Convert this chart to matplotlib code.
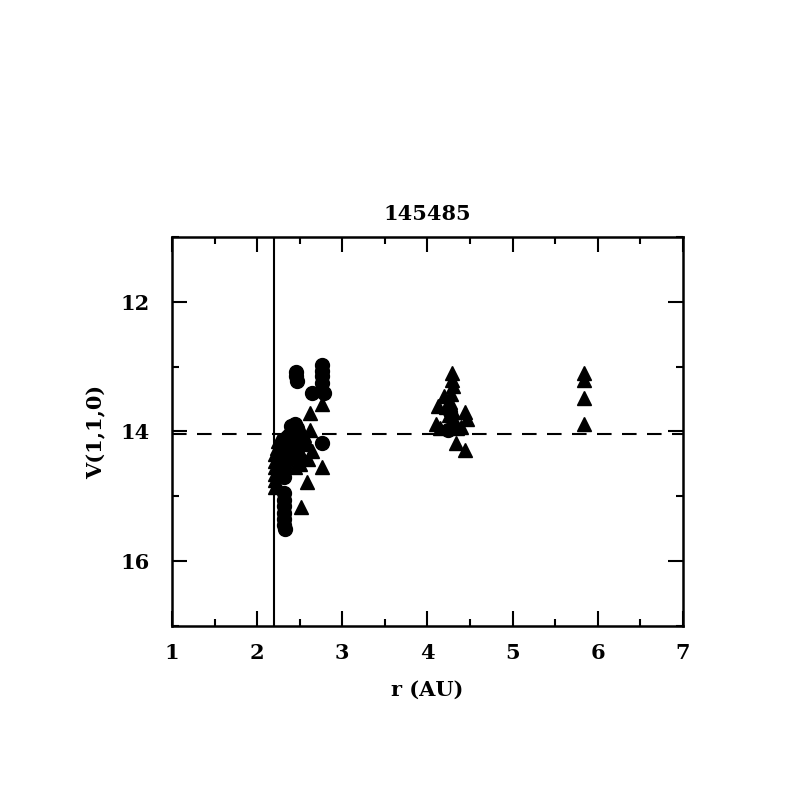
import numpy as np
import matplotlib
matplotlib.use("Agg")
import matplotlib.pyplot as plt
from matplotlib.ticker import MultipleLocator

# circles
circ_r = [2.46, 2.46, 2.47, 2.76, 2.76, 2.76, 2.76, 2.65, 2.78, 2.76,
          2.44, 2.47, 2.40, 2.42, 2.38, 2.35, 2.33, 2.30, 2.31, 2.29, 2.36,
          2.40, 2.44, 2.32, 2.34, 2.28, 2.30, 2.37, 2.41, 2.33, 2.29, 2.31,
          2.35, 2.31, 2.31, 2.32, 2.32, 2.31, 2.32, 2.33, 4.24, 4.27]
circ_v = [13.08, 13.15, 13.22, 12.98, 13.07, 13.15, 13.25, 13.40, 13.40, 14.17,
          13.88, 13.95, 13.92, 14.02, 14.05, 14.08, 14.12, 14.18, 14.25, 14.32, 14.20,
          14.15, 14.10, 14.40, 14.30, 14.45, 14.55, 14.35, 14.25, 14.50, 14.60, 14.70,
          14.40, 14.95, 15.05, 15.15, 15.25, 15.35, 15.45, 15.50, 13.98, 13.70]

# triangles
tri_r = [2.21, 2.21, 2.21, 2.21, 2.21, 2.21, 2.23, 2.25,
         2.62, 2.76, 2.62, 2.55, 2.50, 2.64, 2.60, 2.52, 2.76, 2.58, 2.52,
         2.50, 2.45, 2.56, 2.48, 2.44, 2.58,
         4.29, 4.29, 4.30, 4.28, 4.20, 4.12, 4.22, 4.25, 4.30, 4.44, 4.46,
         4.10, 4.15, 4.40, 4.32, 4.28, 4.34, 4.44, 4.26, 4.35,
         5.84, 5.84, 5.84, 5.84]
tri_v = [14.35, 14.45, 14.55, 14.65, 14.75, 14.85, 14.25, 14.15,
         13.72, 13.58, 13.97, 14.05, 14.15, 14.30, 14.42, 14.35, 14.55, 14.78, 15.17,
         14.50, 14.55, 14.20, 14.25, 14.40, 14.17,
         13.10, 13.20, 13.30, 13.42, 13.45, 13.60, 13.62, 13.75, 13.70, 13.70, 13.80,
         13.88, 13.95, 13.93, 13.85, 13.90, 14.17, 14.28, 13.55, 13.95,
         13.10, 13.20, 13.48, 13.88]

r_limit = 2.2
v_level = 14.04

plt.rcParams['font.family'] = 'DejaVu Serif'
plt.rcParams['font.weight'] = 'bold'
plt.rcParams['axes.titleweight'] = 'bold'
plt.rcParams['axes.labelweight'] = 'bold'

fig = plt.figure(figsize=(7.97, 7.97), dpi=100)
ax = fig.add_axes([0.2158, 0.2146, 0.641, 0.488])

ax.plot(tri_r, tri_v, '^', color='black', ms=10, mec='black')
ax.plot(circ_r, circ_v, 'o', color='black', ms=10, mec='black')
ax.axvline(r_limit, color='black', lw=1.5)
ax.axhline(v_level, color='black', lw=1.5, dashes=(7, 5))

ax.set_xlim(1, 7)
ax.set_ylim(17, 11)
ax.xaxis.set_major_locator(MultipleLocator(1))
ax.xaxis.set_minor_locator(MultipleLocator(0.5))
ax.yaxis.set_major_locator(MultipleLocator(2))
ax.yaxis.set_minor_locator(MultipleLocator(1))
ax.tick_params(which='both', direction='in', top=True, right=True, width=1.5,
               labelsize=15)
ax.tick_params(axis='x', which='major', pad=12)
ax.tick_params(axis='y', which='major', pad=16)
ax.tick_params(which='major', length=11)
ax.tick_params(which='minor', length=5)
for s in ax.spines.values():
    s.set_linewidth(1.8)

ax.set_xlabel("r (AU)", fontsize=15, labelpad=12)
ax.set_ylabel("V(1,1,0)", fontsize=15, labelpad=10)
ax.set_title("145485", fontsize=15, pad=12)

fig.savefig("out.png", dpi=100)
